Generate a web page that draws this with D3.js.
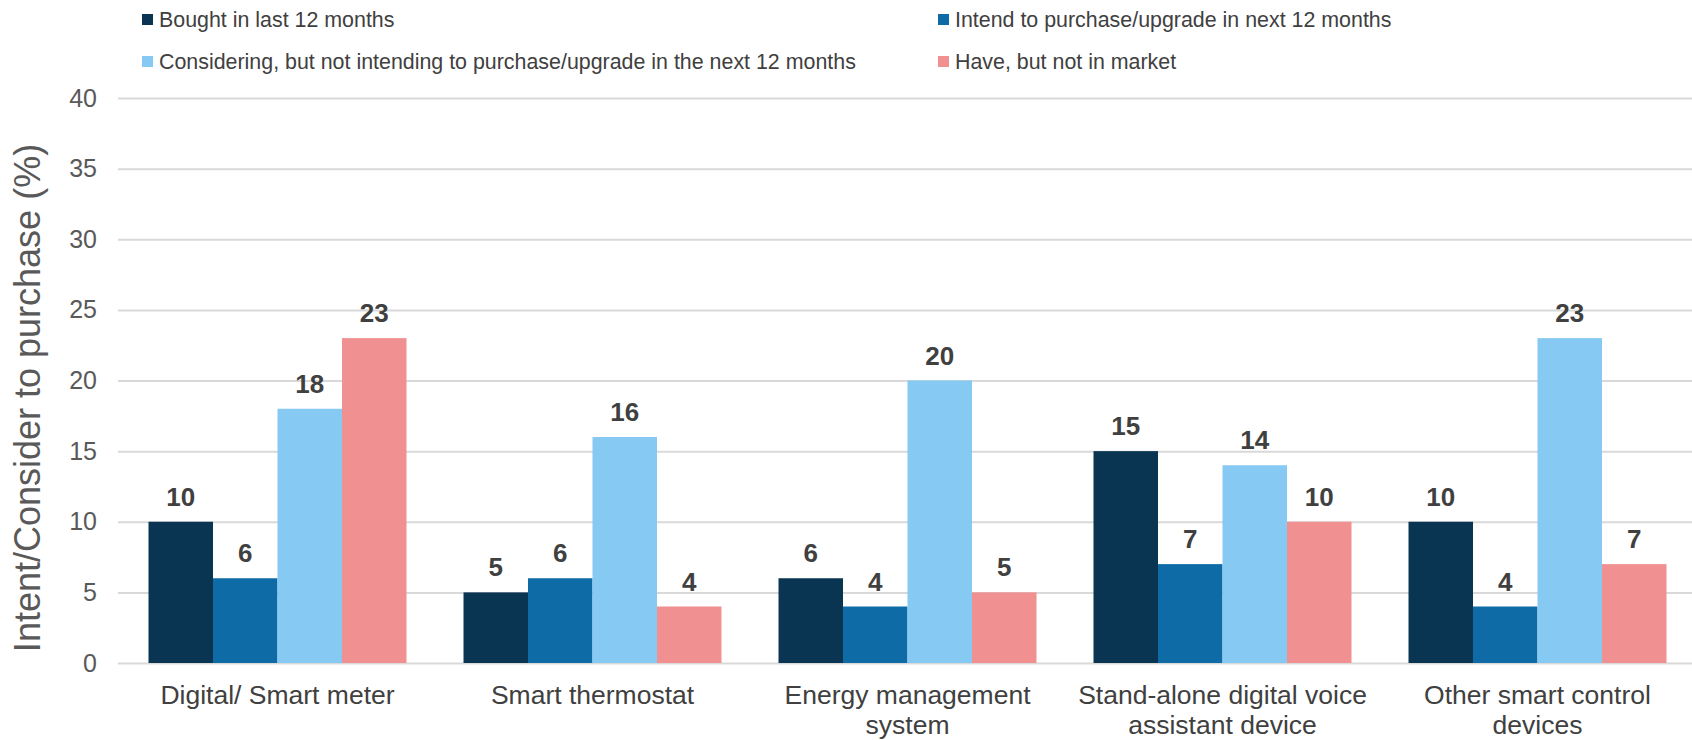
<!DOCTYPE html>
<html>
<head>
<meta charset="utf-8">
<script src="https://cdn.jsdelivr.net/npm/d3@7"></script>
<style>
  body { margin: 0; background: #fff; }
  svg text { font-family: "Liberation Sans", Arial, sans-serif; }
</style>
</head>
<body>
<div id="chart"></div>
<script>
var categories = ["Digital/ Smart meter", "Smart thermostat", "Energy management system",
  "Stand-alone digital voice assistant device", "Other smart control devices"];
var seriesNames = ["Bought in last 12 months", "Intend to purchase/upgrade in next 12 months",
  "Considering, but not intending to purchase/upgrade in the next 12 months", "Have, but not in market"];
var bought = [10, 5, 6, 15, 10];
var intend = [6, 6, 4, 7, 4];
var considering = [18, 16, 20, 14, 23];
var haveNotInMarket = [23, 4, 5, 10, 7];
var yTicks = [0, 5, 10, 15, 20, 25, 30, 35, 40];
var colours = ["#0a3552", "#0e6ba6", "#86c9f3", "#f09091"];

var series = [bought, intend, considering, haveNotInMarket];

var W = 1692, H = 740;
var plot = { left: 118, right: 1695, top: 98, bottom: 663 };

var svg = d3.select("#chart").append("svg")
  .attr("width", W)
  .attr("height", H);

var x0 = d3.scaleBand()
  .domain(categories)
  .range([plot.left + 2, plot.right])
  .paddingInner(0.181)
  .paddingOuter(0.0905);

var x1 = d3.scaleBand()
  .domain(d3.range(series.length))
  .range([0, x0.bandwidth()]);

var y = d3.scaleLinear()
  .domain([0, 40])
  .range([plot.bottom, plot.top]);

// gridlines + y labels
var yAxis = svg.append("g")
  .attr("transform", "translate(" + plot.left + ",0)")
  .call(d3.axisLeft(y).tickValues(yTicks).tickSize(-(W - plot.left)).tickPadding(21));
yAxis.select(".domain").remove();
yAxis.selectAll(".tick line").attr("stroke", "#d9d9d9").attr("stroke-width", 2);
yAxis.selectAll(".tick text")
  .attr("fill", "#595959")
  .style("font-size", "25px");

svg.append("text")
  .attr("transform", "translate(40,398) rotate(-90)")
  .attr("text-anchor", "middle")
  .attr("fill", "#595959")
  .style("font-size", "36px")
  .text("Intent/Consider to purchase (%)");

// bars
var groups = svg.append("g").selectAll("g")
  .data(categories)
  .join("g")
  .attr("transform", function(d) { return "translate(" + x0(d) + ",0)"; });

groups.selectAll("rect")
  .data(function(d, i) { return series.map(function(s, j) { return { s: j, v: s[i] }; }); })
  .join("rect")
  .attr("x", function(d) { return x1(d.s); })
  .attr("y", function(d) { return y(d.v); })
  .attr("width", x1.bandwidth())
  .attr("height", function(d) { return y(0) - y(d.v); })
  .attr("fill", function(d) { return colours[d.s]; });

groups.selectAll("text.val")
  .data(function(d, i) { return series.map(function(s, j) { return { s: j, v: s[i] }; }); })
  .join("text")
  .attr("class", "val")
  .attr("x", function(d) { return x1(d.s) + x1.bandwidth() / 2; })
  .attr("y", function(d) { return y(d.v) - 16; })
  .attr("text-anchor", "middle")
  .attr("fill", "#404040")
  .style("font-size", "26px")
  .style("font-weight", "bold")
  .text(function(d) { return d.v; });

// category labels
var xAxis = svg.append("g")
  .attr("transform", "translate(0," + plot.bottom + ")")
  .call(d3.axisBottom(x0).tickSize(0).tickPadding(0));
xAxis.select(".domain").remove();
xAxis.selectAll(".tick text")
  .attr("fill", "#404040")
  .style("font-size", "26.5px")
  .attr("dy", null)
  .attr("y", 41)
  .each(function(d) {
    var t = d3.select(this), words = d.split(" "), lines = [], line = [];
    t.text(null);
    var probe = t.append("tspan");
    words.forEach(function(w) {
      line.push(w);
      probe.text(line.join(" "));
      if (probe.node().getComputedTextLength() > 300 && line.length > 1) {
        line.pop();
        lines.push(line.join(" "));
        line = [w];
      }
    });
    lines.push(line.join(" "));
    probe.remove();
    lines.forEach(function(l, i) {
      t.append("tspan").attr("x", 0).attr("dy", i ? 30 : 0).text(l);
    });
  });

// legend
var legendPos = [[142, 19.5], [938, 19.5], [142, 61.5], [938, 61.5]];
var legend = svg.append("g").selectAll("g")
  .data(seriesNames)
  .join("g")
  .attr("transform", function(d, i) { return "translate(" + legendPos[i][0] + "," + legendPos[i][1] + ")"; });
legend.append("rect")
  .attr("x", 0).attr("y", -5.5)
  .attr("width", 11).attr("height", 11)
  .attr("fill", function(d, i) { return colours[i]; });
legend.append("text")
  .attr("x", 17)
  .attr("dy", "0.35em")
  .attr("fill", "#404040")
  .style("font-size", "21.4px")
  .text(function(d) { return d; });
</script>
</body>
</html>
